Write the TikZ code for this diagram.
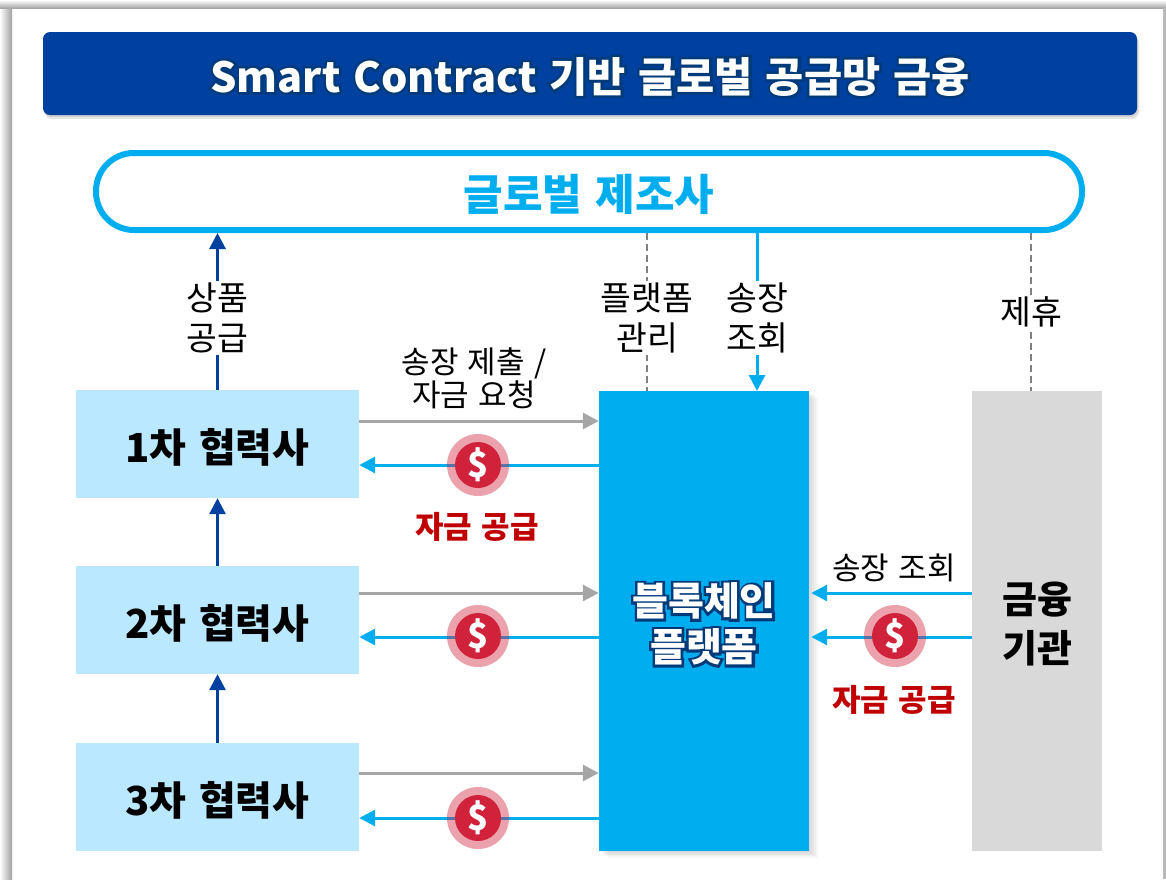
\documentclass[tikz,border=0pt]{standalone}
\usepackage{fontspec}
\setmainfont{Noto Sans CJK KR}[WordSpace=1.35]
\usetikzlibrary{arrows.meta,shadows}

\definecolor{titleblue}{HTML}{00409F}
\definecolor{skyline}{HTML}{00AEEF}
\definecolor{palesky}{HTML}{B9E8FF}
\definecolor{bankgray}{HTML}{D9D9D9}
\definecolor{reqgray}{HTML}{A6A6A6}
\definecolor{coinred}{HTML}{D0223A}
\definecolor{fundred}{HTML}{C00000}
\definecolor{glowblue}{HTML}{003A78}

\newcommand{\nudge}[2][3pt]{\raisebox{-#1}[\height][\depth]{#2}}
\newcommand{\glowtext}[1]{\nudge{\rlap{\color{glowblue}\special{pdf:code q 2 Tr 5 w}#1\special{pdf:code Q}}#1}}

\tikzset{
  tier/.style={fill=palesky, minimum width=283pt, minimum height=108pt, font=\fontsize{40}{48}\selectfont\bfseries},
  lbl/.style={font=\fontsize{33.5}{40}\selectfont, align=center, inner sep=2pt},
  msg/.style={font=\fontsize{31}{33}\selectfont, align=center, inner sep=0pt},
  fund/.style={font=\fontsize{31}{33}\selectfont\bfseries, text=fundred, inner sep=0pt},
  req/.style={draw=reqgray, line width=3pt, -{Triangle[length=16pt,width=16pt]}},
  pay/.style={draw=skyline, line width=3pt, -{Triangle[length=16pt,width=16pt]}},
  ship/.style={draw=titleblue, line width=3pt, -{Triangle[length=16pt,width=16pt]}},
  link/.style={draw=gray, line width=2.4pt, dash pattern=on 7pt off 4pt},
  halo/.style={circle, fill=coinred, fill opacity=.42, minimum size=62pt, inner sep=0pt},
  coin/.style={circle, fill=coinred, text=white, minimum size=46pt, inner sep=0pt, font=\fontsize{35}{35}\selectfont\bfseries},
  softshadow/.style={
    drop shadow={shadow xshift=1pt, shadow yshift=-1pt, opacity=.07},
    drop shadow={shadow xshift=3pt, shadow yshift=-3pt, opacity=.07},
    drop shadow={shadow xshift=5pt, shadow yshift=-4pt, opacity=.07},
    drop shadow={shadow xshift=7pt, shadow yshift=-5pt, opacity=.07},
    drop shadow={shadow xshift=9pt, shadow yshift=-7pt, opacity=.07}},
}

\begin{document}
\begin{tikzpicture}[x=1pt,y=-1pt]
\useasboundingbox (0,0) rectangle (1166,879);

% page edges
\shade[left color=white, right color=gray!75] (0,0) rectangle (12,879);
\shade[top color=white, bottom color=gray!70] (0,0) rectangle (1166,8);
\fill[gray!55] (1163,8) rectangle (1166,879);

% title and manufacturer
\node[fill=titleblue, rounded corners=7pt, minimum width=1094pt, minimum height=83pt,
  drop shadow={shadow xshift=1pt, shadow yshift=-2pt, opacity=.2}, drop shadow={shadow xshift=2pt, shadow yshift=-4pt, opacity=.2},
  text=white, font=\fontsize{41.5}{48}\selectfont\bfseries] (title) at (590,73.5) {\glowtext{Smart Contract 기반 글로벌 공급망 금융}};
\node[draw=skyline, line width=6pt, rounded corners=38pt, minimum width=986pt, minimum height=77pt,
  text=skyline, font=\fontsize{43}{48}\selectfont\bfseries] (maker) at (589,191.5) {\nudge{글로벌 제조사}};

% suppliers
\node[tier] (tier1) at (217.5,444) {\nudge{1차 협력사}};
\node[tier] (tier2) at (217.5,620) {\nudge{2차 협력사}};
\node[tier] (tier3) at (217.5,797) {\nudge{3차 협력사}};

% platform and bank
\node[fill=skyline, minimum width=210pt, minimum height=460pt, softshadow,
  text=white, align=center, font=\fontsize{39}{46}\selectfont\bfseries] (chain) at (704,621) {\glowtext{블록체인}\\\glowtext{플랫폼}};
\node[fill=bankgray, minimum width=130pt, minimum height=460pt, align=center,
  font=\fontsize{38}{49}\selectfont\bfseries] (bank) at (1037,621) {\nudge{금융}\\\nudge{기관}};

\coordinate (mgmt) at (647,391);
\coordinate (check) at (757,391);
\coordinate (tie) at (1031,391);

% upward flow
\draw[ship] (tier1.north) -- (tier1.north |- maker.south);
\draw[ship] (tier2.north) -- (tier1.south);
\draw[ship] (tier3.north) -- (tier2.south);
\draw[link] (mgmt |- maker.south) -- (mgmt);
\draw[link] (tie |- maker.south) -- (tie);
\draw[pay] (check |- maker.south) -- (check);

\node[lbl, fill=white] (shiplabel) at (217,318) {상품\\공급};
\node[lbl, fill=white] (mgmtlabel) at (647,318) {플랫폼\\관리};
\node[lbl, fill=white] (checklabel) at (757,318) {송장\\조회};
\node[lbl, fill=white] (tielabel) at (1031,312) {제휴};

% invoices and funds
\draw[req] (tier1.east |- 0,421) -- (chain.west |- 0,421);
\draw[req] (tier2.east |- 0,593) -- (chain.west |- 0,593);
\draw[req] (tier3.east |- 0,773) -- (chain.west |- 0,773);
\draw[pay] (chain.west |- 0,465) -- (tier1.east |- 0,465);
\draw[pay] (chain.west |- 0,637) -- (tier2.east |- 0,637);
\draw[pay] (chain.west |- 0,818) -- (tier3.east |- 0,818);
\draw[pay, shorten >=2pt] (bank.west |- 0,593) -- (chain.east |- 0,593);
\draw[pay, shorten >=2pt] (bank.west |- 0,637) -- (chain.east |- 0,637);

\foreach \n/\x/\y in {1/478/465, 2/478/636, 3/478/818, 4/895/636} {
  \node[halo] (halo\n) at (\x,\y) {};
  \node[coin] (coin\n) at (\x,\y) {\$};
}

\node[msg] (reqlabel) at (474,378) {송장 제출 /\\자금 요청};
\node[fund] (fundlabel) at (477,527) {자금 공급};
\node[msg] (banklabel) at (894,568) {송장 조회};
\node[fund] (bankfund) at (894,700) {자금 공급};
\end{tikzpicture}
\end{document}
